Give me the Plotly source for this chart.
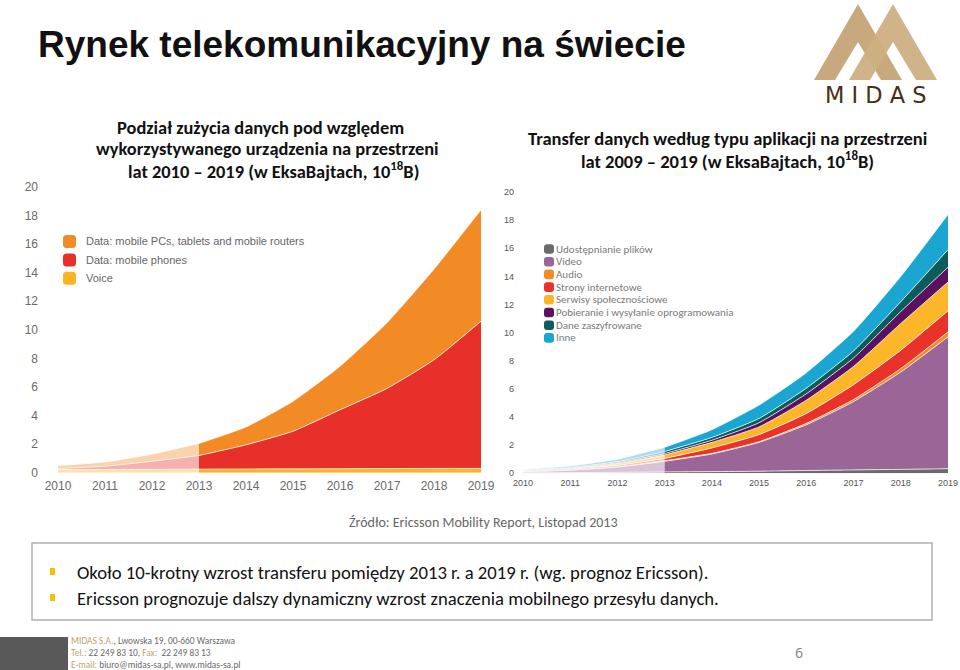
import plotly.graph_objects as go

W, H = 960, 670


def X(px):
    return px / W


def Y(py):
    return 1 - py / H


# ---------------- data ----------------
years = [2010, 2011, 2012, 2013, 2014, 2015, 2016, 2017, 2018, 2019]
year_labels = [str(y) for y in years]
y_ticks = [0, 2, 4, 6, 8, 10, 12, 14, 16, 18, 20]

# left chart: data by device (EB)
dev_names = ["Data: mobile PCs, tablets and mobile routers", "Data: mobile phones", "Voice"]
voice = [0.22, 0.23, 0.24, 0.25, 0.26, 0.27, 0.28, 0.29, 0.30, 0.30]
phones = [0.08, 0.22, 0.56, 0.95, 1.69, 2.63, 4.12, 5.61, 7.60, 10.30]
pcs = [0.20, 0.30, 0.50, 0.85, 1.25, 2.10, 3.05, 4.60, 6.35, 7.80]
dev_colors = ["#f28a25", "#e8302a", "#fab321"]

# right chart: data by application type (EB)
app_names = ["Udostępnianie plików", "Video", "Audio", "Strony internetowe",
             "Serwisy społecznościowe", "Pobieranie i wysyłanie oprogramowania",
             "Dane zaszyfrowane", "Inne"]
file_sharing = [0.03, 0.05, 0.07, 0.10, 0.12, 0.15, 0.20, 0.24, 0.28, 0.33]
video = [0.07, 0.17, 0.37, 0.75, 1.25, 2.05, 3.25, 4.86, 6.92, 9.37]
audio = [0.01, 0.02, 0.03, 0.05, 0.05, 0.05, 0.10, 0.15, 0.25, 0.35]
web = [0.03, 0.05, 0.09, 0.15, 0.38, 0.50, 0.70, 1.05, 1.30, 1.50]
social = [0.03, 0.06, 0.13, 0.25, 0.40, 0.55, 0.95, 1.30, 1.90, 2.05]
software = [0.02, 0.03, 0.06, 0.10, 0.15, 0.30, 0.45, 0.60, 0.85, 1.05]
encrypted = [0.02, 0.04, 0.08, 0.15, 0.20, 0.30, 0.40, 0.50, 0.70, 1.25]
other = [0.05, 0.10, 0.17, 0.30, 0.55, 0.95, 1.10, 1.40, 1.80, 2.50]
app_colors = ["#6b6b6b", "#9a6597", "#f28c28", "#e8322a", "#fbb62a", "#5c1060", "#0e5c59", "#1ba6d2"]

HIST_END = 3  # index of 2013: earlier years are drawn faded


def rgba(hex_color, a):
    h = hex_color.lstrip("#")
    r, g, b = int(h[0:2], 16), int(h[2:4], 16), int(h[4:6], 16)
    return f"rgba({r},{g},{b},{a})"


fig = go.Figure()


def add_stack(series_list, colors, xa, ya, prefix):
    for s, c in zip(series_list, colors):
        line = dict(color="rgba(255,255,255,0.9)", width=0.8, shape="spline", smoothing=0.5)
        fig.add_trace(go.Scatter(
            x=years[:HIST_END + 1], y=s[:HIST_END + 1], stackgroup=prefix + "h",
            mode="lines", line=line, fillcolor=rgba(c, 0.38),
            xaxis=xa, yaxis=ya, showlegend=False, hoverinfo="skip"))
        fig.add_trace(go.Scatter(
            x=years[HIST_END:], y=s[HIST_END:], stackgroup=prefix + "f",
            mode="lines", line=line, fillcolor=c,
            xaxis=xa, yaxis=ya, showlegend=False, hoverinfo="skip"))


# bottom-to-top stacking order
add_stack([voice, phones, pcs], [dev_colors[2], dev_colors[1], dev_colors[0]], "x", "y", "L")
add_stack([file_sharing, video, audio, web, social, software, encrypted, other], app_colors, "x2", "y2", "R")

axis_common = dict(showgrid=False, zeroline=False, showline=False, ticks="", fixedrange=True,
                   automargin=False)

fig.update_layout(
    template="none",
    width=W, height=H, autosize=False,
    margin=dict(l=0, r=0, t=0, b=0, pad=0, autoexpand=False),
    paper_bgcolor="white", plot_bgcolor="rgba(0,0,0,0)",
    showlegend=False,
    xaxis=dict(domain=[X(58), X(481)], range=[2010, 2019], anchor="y",
               tickvals=years, ticktext=year_labels, ticklabelstandoff=4,
               tickfont=dict(family="Liberation Sans", size=12, color="#6a6a6a"), **axis_common),
    yaxis=dict(domain=[Y(472.7), Y(187)], range=[0, 20], anchor="x",
               tickvals=y_ticks, ticktext=[str(v) for v in y_ticks], ticklabelstandoff=19,
               tickfont=dict(family="Liberation Sans", size=12, color="#6a6a6a"), **axis_common),
    xaxis2=dict(domain=[X(523), X(948)], range=[2010, 2019], anchor="y2",
                tickvals=years, ticktext=year_labels, ticklabelstandoff=3,
                tickfont=dict(family="Liberation Sans", size=9, color="#555555"), **axis_common),
    yaxis2=dict(domain=[Y(473.3), Y(192)], range=[0, 20], anchor="x2",
                tickvals=y_ticks, ticktext=[str(v) for v in y_ticks], ticklabelstandoff=8,
                tickfont=dict(family="Liberation Sans", size=9, color="#555555"), **axis_common),
)

ann = []
shapes = []


def text(px, py, s, size, color, family, xanchor="left", yanchor="middle"):
    ann.append(dict(x=X(px), y=Y(py), xref="paper", yref="paper", text=s, showarrow=False,
                    xanchor=xanchor, yanchor=yanchor, align=xanchor if xanchor != "center" else "center",
                    font=dict(size=size, color=color, family=family)))


CAL = "Carlito, Lato, sans-serif"

# title
text(36, 45, "<b>Rynek telekomunikacyjny na świecie</b>", 37, "#111111", "Liberation Sans")

# subtitles
sub_l = ["Podział zużycia danych pod względem",
         "wykorzystywanego urządzenia na przestrzeni",
         "lat 2010 – 2019 (w EksaBajtach, 10<sup>18</sup>B)"]
sub_l_cx = [260, 267, 273]
for i, s in enumerate(sub_l):
    text(sub_l_cx[i], 127 + i * 21.5, "<b>" + s + "</b>", 18.4, "#111111", CAL, xanchor="center")
sub_r = ["Transfer danych według typu aplikacji na przestrzeni",
         "lat 2009 – 2019 (w EksaBajtach, 10<sup>18</sup>B)"]
for i, s in enumerate(sub_r):
    text(727, 138 + i * 22, "<b>" + s + "</b>", 18.5, "#111111", CAL, xanchor="center")


def rounded_rect(x0, y0, x1, y1, r, color):
    xa, xb, ya, yb = X(x0), X(x1), Y(y0), Y(y1)
    rx, ry = r / W, r / H
    path = (f"M {xa+rx},{ya} L {xb-rx},{ya} Q {xb},{ya} {xb},{ya-ry} "
            f"L {xb},{yb+ry} Q {xb},{yb} {xb-rx},{yb} L {xa+rx},{yb} "
            f"Q {xa},{yb} {xa},{yb+ry} L {xa},{ya-ry} Q {xa},{ya} {xa+rx},{ya} Z")
    shapes.append(dict(type="path", path=path, xref="paper", yref="paper",
                       fillcolor=color, line=dict(width=0)))


# left legend
for i, (name, c) in enumerate(zip(dev_names, dev_colors)):
    cy = 241.5 + i * 18.4
    rounded_rect(63, cy - 6.5, 76, cy + 6.5, 3.5, c)
    text(84, cy, name, 11, "#666666", "Liberation Sans")

# right legend
for i, (name, c) in enumerate(zip(app_names, app_colors)):
    cy = 249 + i * 12.7
    rounded_rect(544, cy - 4.8, 554, cy + 4.8, 3, c)
    text(554, cy, name, 11, "#7a7a7a", CAL)

# source
text(483, 522, "Źródło: Ericsson Mobility Report, Listopad 2013", 14, "#666666", CAL, xanchor="center")

# bullet box
shapes.append(dict(type="rect", xref="paper", yref="paper", x0=X(32), x1=X(932), y0=Y(620), y1=Y(543),
                   line=dict(color="#b0b0b0", width=1.5), fillcolor="rgba(0,0,0,0)"))
bullets = ["Około 10-krotny wzrost transferu pomiędzy 2013 r. a 2019 r. (wg. prognoz Ericsson).",
           "Ericsson prognozuje dalszy dynamiczny wzrost znaczenia mobilnego przesyłu danych."]
for i, s in enumerate(bullets):
    cy = 572 + i * 26
    shapes.append(dict(type="rect", xref="paper", yref="paper", x0=X(50), x1=X(55), y0=Y(cy + 3), y1=Y(cy - 4),
                       fillcolor="#f4c300", line=dict(width=0)))
    text(75, cy, s, 18.7, "#111111", CAL)

# footer
shapes.append(dict(type="rect", xref="paper", yref="paper", x0=0, x1=X(68), y0=Y(670), y1=Y(637),
                   fillcolor="#595959", line=dict(width=0)))
gold = "#b9a46c"
grey = "#6a6a6a"
foot = [f"<span style='color:{gold}'>MIDAS S.A.</span>, Lwowska 19, 00-660 Warszawa",
        f"<span style='color:{gold}'>Tel.:</span> 22 249 83 10, <span style='color:{gold}'>Fax:</span>  22 249 83 13",
        f"<span style='color:{gold}'>E-mail:</span> biuro@midas-sa.pl, www.midas-sa.pl"]
for i, s in enumerate(foot):
    text(69, 641 + i * 12, s, 9.4, grey, CAL)

text(799, 652, "6", 14, "#808080", "Open Sans", xanchor="center")


# logo
def poly(points, color):
    path = "M " + " L ".join(f"{X(px)},{Y(py)}" for px, py in points) + " Z"
    shapes.append(dict(type="path", path=path, xref="paper", yref="paper",
                       fillcolor=color, line=dict(width=0)))


poly([(814, 80), (858, 4), (902, 80), (881, 80), (858, 42), (835, 80)], "rgba(196,164,118,0.95)")
poly([(849, 80), (893, 4), (937, 80), (916, 80), (893, 42), (870, 80)], "rgba(205,175,130,0.95)")
text(876, 95, "M I D A S", 22.5, "#4a2f18", "DejaVu Sans", xanchor="center")

fig.update_layout(annotations=ann, shapes=shapes)
fig.write_html("out.html")
